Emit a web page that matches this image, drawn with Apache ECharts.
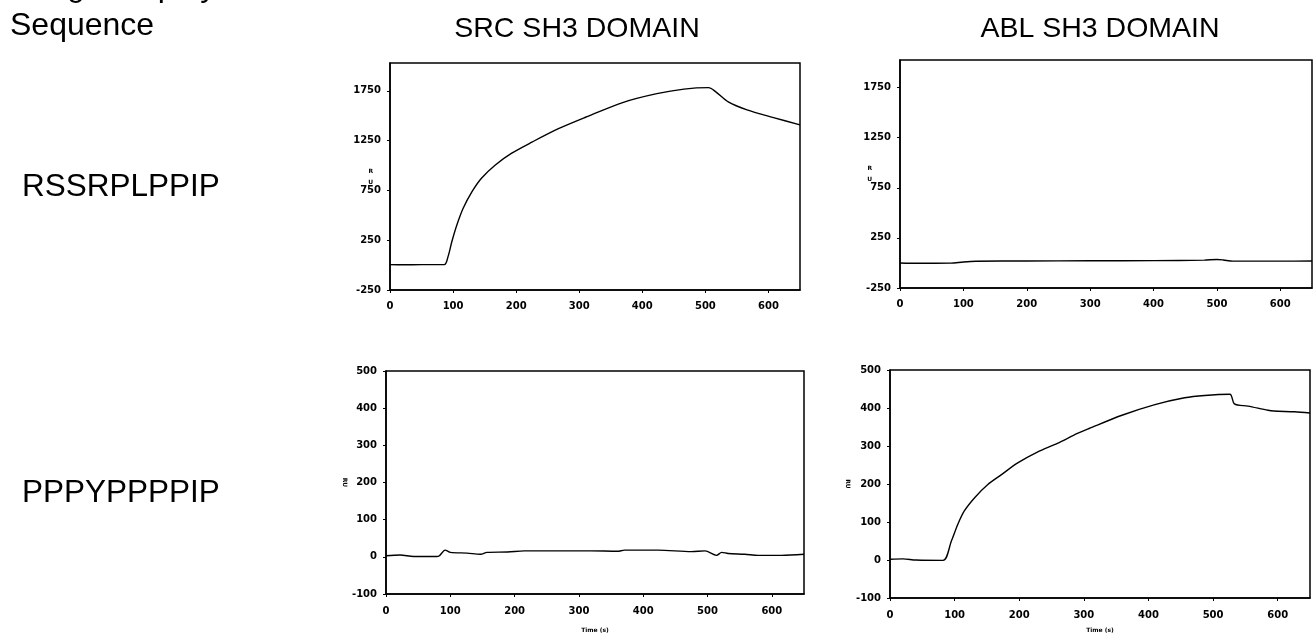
<!DOCTYPE html>
<html>
<head>
<meta charset="utf-8">
<title>SH3 binding</title>
<script src="https://cdn.jsdelivr.net/npm/echarts@6/dist/echarts.min.js"></script>
<style>
    html, body { margin: 0; padding: 0; background: #fff; }
    #main { width: 1313px; height: 637px; }
</style>
</head>
<body>
<div id="main"></div>
<script>
    // column / row headings
    var domains = ['SRC SH3 DOMAIN', 'ABL SH3 DOMAIN'];
    var peptides = ['RSSRPLPPIP', 'PPPYPPPPIP'];

    // tick labels
    var timeTicks = [0, 100, 200, 300, 400, 500, 600];
    var ruTicksTop = [-250, 250, 750, 1250, 1750];
    var ruTicksBottom = [-100, 0, 100, 200, 300, 400, 500];

    // SRC SH3 / RSSRPLPPIP
    var srcRssrTime = [0, 20, 50, 86, 92, 98, 106, 116, 130, 145, 167, 193, 225, 267, 310, 370, 423, 466, 505, 516, 537, 566, 608, 650];
    var srcRssrRU = [5, 3, 5, 5, 85, 235, 403, 571, 738, 873, 1006, 1124, 1235, 1370, 1485, 1635, 1722, 1768, 1783, 1743, 1636, 1559, 1482, 1408];

    // ABL SH3 / RSSRPLPPIP
    var ablRssrTime = [0, 30, 80, 100, 120, 200, 300, 400, 480, 500, 510, 525, 600, 650];
    var ablRssrRU = [0, -3, -2, 10, 17, 20, 22, 23, 28, 35, 30, 18, 18, 20];

    // SRC SH3 / PPPYPPPPIP
    var srcPppyTime = [0, 22, 43, 79, 83, 92, 100, 126, 147, 157, 189, 215, 267, 319, 360, 371, 423, 475, 496, 514, 522, 532, 558, 579, 615, 650];
    var srcPppyRU = [3, 5, 1, 1, 3, 18, 12, 10, 7, 12, 13, 16, 16, 16, 15, 18, 18, 14, 16, 4, 12, 9, 7, 4, 4, 7];

    // ABL SH3 / PPPYPPPPIP
    var ablPppyTime = [0, 20, 40, 82, 95, 105, 115, 131, 151, 172, 197, 228, 259, 290, 308, 359, 410, 456, 487, 526, 533, 554, 585, 594, 626, 650];
    var ablPppyRU = [2, 3, 0, -1, 50, 94, 129, 164, 198, 224, 255, 284, 307, 333, 346, 381, 409, 427, 433, 436, 411, 405, 394, 392, 390, 387];

    var dom = document.getElementById('main');
    var myChart = echarts.init(dom);

    function pairs(xs, ys) {
        var res = [];
        for (var i = 0; i < xs.length; i++) {
            res.push([xs[i], ys[i]]);
        }
        return res;
    }

    function extend(a, b) {
        var o = {};
        for (var k in a) o[k] = a[k];
        for (var k2 in b) o[k2] = b[k2];
        return o;
    }

    function plain(v) {
        return String(v);
    }

    var tickFont = { color: '#000', fontFamily: 'DejaVu Sans', fontWeight: 'bold', fontSize: 10, formatter: plain };
    var nameFont = { color: '#000', fontFamily: 'DejaVu Sans', fontWeight: 'bold', fontSize: 6, lineHeight: 11 };

    /*
    * panel boxes, in pixels
    */
    var grids = [
        { left: 390, top: 63, width: 410, height: 227 },
        { left: 900, top: 60, width: 412, height: 228 },
        { left: 386, top: 371, width: 418, height: 230 },
        { left: 890, top: 370, width: 420, height: 230 }
    ];
    for (var g = 0; g < grids.length; g++) {
        grids[g].show = true;
        grids[g].borderColor = '#000';
        grids[g].borderWidth = 1.5;
    }

    function xAxis(idx, withName, gap, margin) {
        return {
            type: 'value', gridIndex: idx, min: 0, max: 650,
            name: withName ? 'Time (s)' : '',
            nameLocation: 'middle', nameGap: gap, nameMoveOverlap: false,
            nameTextStyle: nameFont,
            axisLine: { show: true, onZero: false, lineStyle: { color: '#000', width: 1.5 } },
            axisTick: { show: true, length: 3, customValues: timeTicks, lineStyle: { color: '#000' } },
            axisLabel: extend(tickFont, { margin: margin, customValues: timeTicks }),
            splitLine: { show: false }
        };
    }

    function yAxis(idx, ticks, min, max, name, nameGap, nameRotate) {
        return {
            type: 'value', gridIndex: idx, min: min, max: max,
            name: name, nameLocation: 'middle', nameGap: nameGap, nameRotate: nameRotate,
            nameMoveOverlap: false,
            nameTextStyle: nameFont,
            axisLine: { show: true, onZero: false, lineStyle: { color: '#000', width: 1.5 } },
            axisTick: { show: true, length: 3, customValues: ticks, lineStyle: { color: '#000' } },
            axisLabel: extend(tickFont, { margin: 9, customValues: ticks }),
            splitLine: { show: false }
        };
    }

    function lineSeries(idx, data) {
        return {
            type: 'line', xAxisIndex: idx, yAxisIndex: idx,
            data: data, showSymbol: false, symbol: 'none',
            smooth: 0.3,
            lineStyle: { color: '#000', width: 1.4 },
            animation: false
        };
    }

    // big heading texts
    var texts = [
        { text: 'Phage Display', x: 10, y: -13, size: 32, align: 'left' },
        { text: 'Sequence', x: 10, y: 26, size: 32, align: 'left' },
        { text: domains[0], x: 577, y: 29, size: 28.5, align: 'center' },
        { text: domains[1], x: 1100, y: 29, size: 28.5, align: 'center' },
        { text: peptides[0], x: 22, y: 187, size: 31.5, align: 'left' },
        { text: peptides[1], x: 22, y: 493, size: 31.5, align: 'left' }
    ];
    var graphics = [];
    for (var t = 0; t < texts.length; t++) {
        graphics.push({
            type: 'text', x: texts[t].x, y: texts[t].y,
            style: {
                text: texts[t].text, fill: '#000',
                font: texts[t].size + 'px "Liberation Sans"',
                textAlign: texts[t].align, textVerticalAlign: 'middle'
            }
        });
    }

    var option = {
        backgroundColor: '#fff',
        animation: false,
        grid: grids,
        xAxis: [xAxis(0, false, 11, 11), xAxis(1, false, 11, 11), xAxis(2, true, 31, 12), xAxis(3, true, 27, 12)],
        yAxis: [
            yAxis(0, ruTicksTop, -250, 2030, 'R\nU', 17, 0),
            yAxis(1, ruTicksTop, -250, 2025, 'R\nU', 28, 0),
            yAxis(2, ruTicksBottom, -100, 500, 'RU', 36, -90),
            yAxis(3, ruTicksBottom, -100, 500, 'RU', 37, -90)
        ],
        series: [
            lineSeries(0, pairs(srcRssrTime, srcRssrRU)),
            lineSeries(1, pairs(ablRssrTime, ablRssrRU)),
            lineSeries(2, pairs(srcPppyTime, srcPppyRU)),
            lineSeries(3, pairs(ablPppyTime, ablPppyRU))
        ],
        graphic: graphics
    };

    myChart.setOption(option);
</script>
</body>
</html>
